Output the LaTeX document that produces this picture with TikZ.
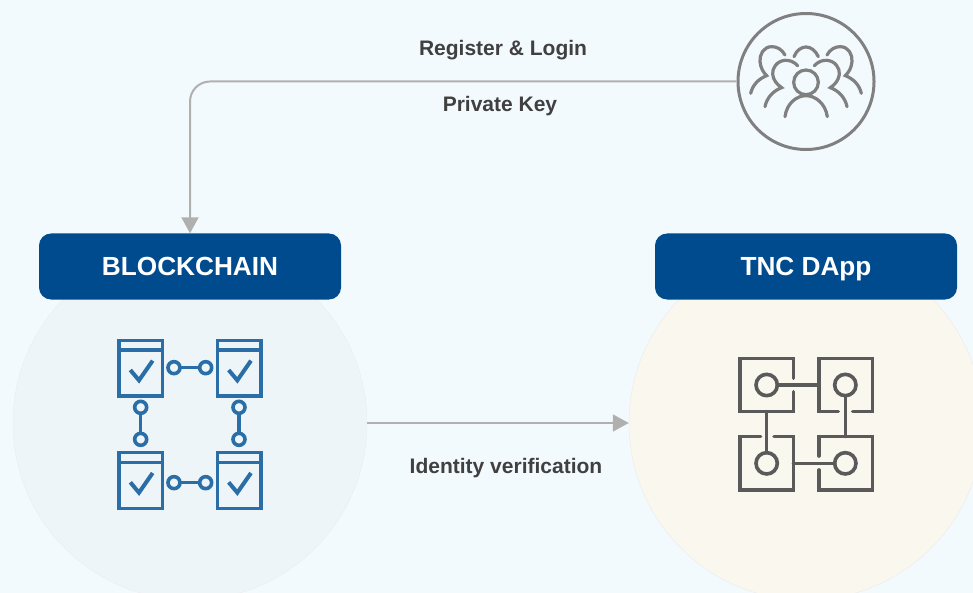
\documentclass[tikz,border=0pt]{standalone}
\usepackage{fontspec}
\setmainfont{Liberation Sans}
\usetikzlibrary{arrows.meta}
\definecolor{bgc}{HTML}{F3FAFE}
\definecolor{lcirc}{HTML}{EEF5F8}
\definecolor{rcirc}{HTML}{F9F7EE}
\definecolor{boxc}{HTML}{004B8D}
\definecolor{txtc}{HTML}{404040}
\definecolor{iconb}{HTML}{2A6EA8}
\definecolor{icong}{HTML}{5A5A5A}
\definecolor{userg}{HTML}{808080}
\definecolor{linec}{HTML}{B0B0B0}
\tikzset{
  bigcircle/.style={circle,draw=black!7,line width=.5pt,minimum size=354pt,inner sep=0pt},
  headbox/.style={rectangle,rounded corners=12pt,fill=boxc,minimum width=302pt,minimum height=66pt,inner sep=0pt,text=white,text height=18pt,text depth=0pt,font=\fontsize{26.2}{30}\selectfont\bfseries},
  lbl/.style={text=txtc,font=\fontsize{21}{24}\selectfont\bfseries,inner sep=0pt},
  conn/.style={draw=linec,line width=2pt},
  tip/.style={-{Triangle[length=16pt,width=17pt,fill=linec,color=linec]}},
  blueline/.style={draw=iconb,line width=3.6pt},
  grayline/.style={draw=icong,line width=3.6pt,line cap=round},
  userline/.style={draw=userg,line width=3.2pt,line cap=round},
}
\begin{document}
\begin{tikzpicture}[x=1pt,y=-1pt]
\useasboundingbox (0,0) rectangle (973,593);
\fill[bgc] (0,0) rectangle (973,593);
\begin{scope}
\clip (0,0) rectangle (973,593);
\node[bigcircle,fill=lcirc] (chaincircle) at (190,423) {};
\node[bigcircle,fill=rcirc] (dappcircle) at (806,423) {};
\end{scope}
\node[circle,draw=userg,line width=3pt,minimum size=136pt,inner sep=0pt] (user) at (806,81.5) {};
\node[headbox] (chain) at (190,266.5) {BLOCKCHAIN};
\node[headbox] (dapp) at (806,266.5) {TNC DApp};
\draw[conn,tip,rounded corners=20pt] (user.west) -| (chain.north);
\draw[conn,tip] (chaincircle.east) -- (dappcircle.west);
\node[lbl] (register) at (503,50.3) {Register \& Login};
\node[lbl] (privkey) at (500,106.3) {Private Key};
\node[lbl] (identity) at (506,468.3) {Identity verification};
% users icon
\begin{scope}[shift={(730,5)},x=.3333pt,y=-.3333pt]
\draw[userline] (228,232) circle (37);
\draw[userline] (165,335) .. controls (170,295) and (200,272) .. (228,272) .. controls (256,272) and (286,295) .. (292,335);
\draw[userline] (192,155) .. controls (200,135) and (215,126) .. (228,126) .. controls (241,126) and (256,135) .. (265,155);
\foreach \s/\o in {1/0,-1/456}{
\begin{scope}[shift={(\o,0)},x=\s*.3333pt]
\draw[userline] (165,150) .. controls (155,132) and (140,125) .. (125,125) .. controls (100,125) and (88,150) .. (90,170) .. controls (92,190) and (100,202) .. (110,212) .. controls (85,222) and (68,240) .. (62,265);
\draw[userline] (203,182) .. controls (192,170) and (178,165) .. (165,166) .. controls (140,168) and (126,190) .. (128,208) .. controls (130,225) and (140,238) .. (155,248) .. controls (128,258) and (110,280) .. (105,305);
\end{scope}
}
\end{scope}
% blockchain icon
\begin{scope}[shift={(105,330)},x=.3333pt,y=-.3333pt]
\foreach \dx/\dy in {0/0,295/0,0/337,295/337}{
\begin{scope}[shift={(\dx,\dy)},x=.3333pt,y=-.3333pt]
\draw[blueline] (42,31) rectangle (173,198);
\draw[blueline] (42,60) -- (173,60);
\draw[blueline,line width=4pt] (76,120) -- (102,151) -- (143,92);
\end{scope}
}
\foreach \xa/\ya/\xb/\yb in {207/113/302/113,207/458/302/458,107/232/107/328,402/232/402/328}{
\draw[blueline] (\xa,\ya) -- (\xb,\yb);
\draw[blueline,fill=lcirc] (\xa,\ya) circle (18);
\draw[blueline,fill=lcirc] (\xb,\yb) circle (18);
}
\end{scope}
% dapp icon
\begin{scope}[shift={(730,345)},x=.3333pt,y=-.3333pt]
\draw[grayline] (190,100) -- (190,40) -- (30,40) -- (30,200) -- (190,200) -- (190,140);
\draw[grayline] (325,200) -- (267,200) -- (267,40) -- (427,40) -- (427,200) -- (368,200);
\draw[grayline] (92,275) -- (30,275) -- (30,435) -- (190,435) -- (190,275) -- (132,275);
\draw[grayline] (267,333) -- (267,275) -- (427,275) -- (427,435) -- (267,435) -- (267,375);
\draw[grayline] (142,120) -- (267,120);
\draw[grayline] (346,152) -- (346,275);
\draw[grayline] (110,200) -- (110,323);
\draw[grayline] (190,355) -- (314,355);
\foreach \cx/\cy in {110/120,346/120,110/355,346/355}{
\draw[grayline] (\cx,\cy) circle (32);
}
\end{scope}
\end{tikzpicture}
\end{document}
